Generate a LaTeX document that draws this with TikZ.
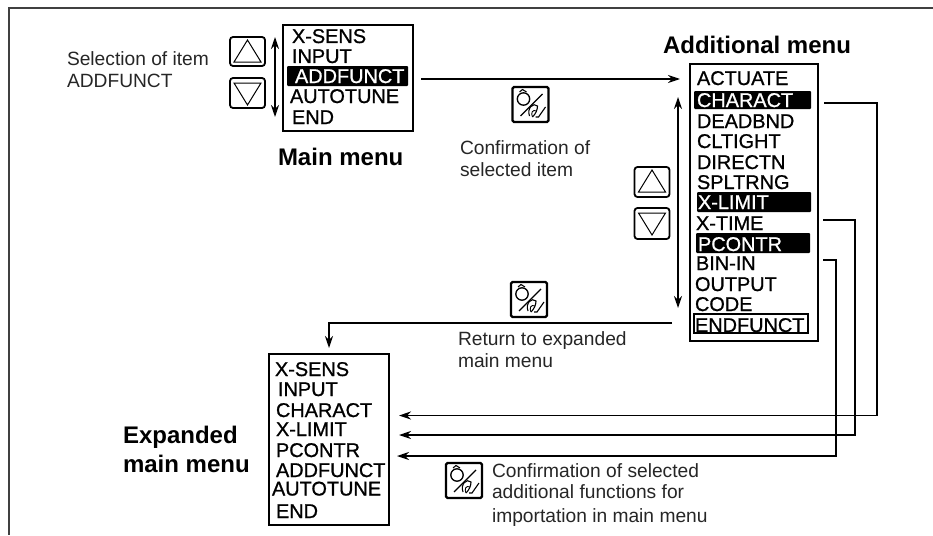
\documentclass[tikz,border=0pt]{standalone}
\usepackage{fontspec}
\setmainfont{Liberation Sans}
\newfontfamily\menufont[FakeBold=0.9]{Liberation Sans}
\usetikzlibrary{arrows.meta}
\tikzset{
  every node/.style={inner sep=0pt,outer sep=0pt},
  label/.style={anchor=base west,font=\fontsize{19.2}{22}\selectfont,text=black!85},
  head/.style={anchor=base west,font=\bfseries\fontsize{24}{28}\selectfont},
  item/.style={anchor=base west,font=\menufont\fontsize{19.9}{24}\selectfont},
  itemw/.style={item,text=white},
  menubox/.style={draw,line width=2.8pt,minimum width=#1,anchor=north west},
  hl/.style={fill=black,rounded corners=1pt,anchor=north west},
  endbox/.style={draw,line width=1.2pt,anchor=north west},
  btn/.style={draw,line width=1.8pt,rounded corners=3pt,anchor=north west,minimum width=35pt},
  iconbox/.style={draw,line width=2.4pt,rounded corners=1.5pt,anchor=north west,minimum width=36pt,minimum height=35pt},
  conn/.style={line width=1.7pt,-{Stealth[length=12pt,width=8pt]}},
  twoway/.style={line width=1.7pt,{Stealth[length=12pt,width=8pt]}-{Stealth[length=12pt,width=8pt]}},
  thinconn/.style={line width=1.5pt,-{Stealth[length=12pt,width=8pt]}},
  glyph/.style={line width=1pt},
  pics/updown/.style={code={
    \draw[glyph] (4,25) -- (17.5,3) -- (31,25) -- cycle;
  }},
  pics/downtri/.style={code={
    \draw[glyph] (4,5) -- (17.5,27) -- (31,5) -- cycle;
  }},
  pics/dial/.style={code={
    \draw[line width=1.3pt] (11,12) circle (6.2);
    \draw[line width=1.1pt] (7,5) -- (10,2.5) -- (14,5);
    \draw[line width=1.1pt] (30,7) -- (8,29);
    \draw[line width=1.1pt] (17,29) .. controls (14,21) and (21,15) .. (25,19) .. controls (25,23) and (23,27) .. (20,30);
    \draw[line width=1.1pt] (23,30) -- (26,30) -- (33,20);
    \draw[line width=0.9pt] (20,30) .. controls (18,26) and (20,22) .. (24,24);
  }}
}
\begin{document}
\begin{tikzpicture}[x=1pt,y=-1pt]
\useasboundingbox (0,0) rectangle (933,535);
\draw[line width=1.5pt,draw=black!75] (933,8) -- (9,8) -- (9,535);

% left labels
\node[label] (sel1) at (67,65) {Selection of item};
\node[label] (sel2) at (67,87) {ADDFUNCT};

% main menu
\node[btn,minimum height=29pt] (mUp) at (230,37) {};
\pic at (mUp.north west) {updown};
\node[btn,minimum height=30pt] (mDn) at (230,78) {};
\pic at (mDn.north west) {downtri};
\node[menubox=130pt,minimum height=106pt] (mainbox) at (283,25) {};
\node[hl,minimum width=121pt,minimum height=20pt] (hlAdd) at (287,66) {};
\node[item] (m1) at (292,43) {X-SENS};
\node[item] (m2) at (292,63) {INPUT};
\node[itemw] (m3) at (295,83) {ADDFUNCT};
\node[item] (m4) at (290,103) {AUTOTUNE};
\node[item] (m5) at (292,124) {END};
\node[head] (mainT) at (278,165) {Main menu};
\draw[twoway] ([xshift=-8pt]mainbox.west |- mUp.north) -- ([xshift=-8pt,yshift=-9pt]mainbox.west |- mDn.south);

% additional menu
\node[head] (addT) at (663,53) {Additional menu};
\node[menubox=128pt,minimum height=277pt] (addbox) at (690,64) {};
\node[hl,minimum width=117pt,minimum height=18pt] (hlChar) at (694,91) {};
\node[hl,minimum width=114pt,minimum height=20pt] (hlLim) at (697,192) {};
\node[hl,minimum width=114pt,minimum height=20pt] (hlPc) at (696,233) {};
\node[endbox,minimum width=114pt,minimum height=19pt] (hlEnd) at (694,314) {};
\node[item] (a1) at (697,85) {ACTUATE};
\node[itemw] (a2) at (697,107) {CHARACT};
\node[item] (a3) at (697,128) {DEADBND};
\node[item] (a4) at (697,148) {CLTIGHT};
\node[item] (a5) at (697,169) {DIRECTN};
\node[item] (a6) at (697,189) {SPLTRNG};
\node[itemw] (a7) at (698,209) {X-LIMIT};
\node[item] (a8) at (696,230) {X-TIME};
\node[itemw] (a9) at (698,251) {PCONTR};
\node[item] (a10) at (696,270) {BIN-IN};
\node[item] (a11) at (695,291) {OUTPUT};
\node[item] (a12) at (695,311) {CODE};
\node[item] (a13) at (695,332) {ENDFUNCT};
\node[btn,minimum height=30pt] (aUp) at (634.5,167) {};
\pic at (aUp.north west) {updown};
\node[btn,minimum height=31pt] (aDn) at (634.5,208) {};
\pic at (aDn.north west) {downtri};
\draw[twoway] ([xshift=-12pt,yshift=-6pt]addbox.west |- hlChar.north) -- ([xshift=-12pt,yshift=33pt]addbox.south west);

% confirm icon + labels
\node[iconbox] (ic1) at (512.5,87) {};
\pic at (ic1.north west) {dial};
\node[label] (c1) at (460,154) {Confirmation of};
\node[label] (c2) at (460,176) {selected item};
\node[iconbox] (ic2) at (511,282) {};
\pic at (ic2.north west) {dial};
\node[label] (r1) at (458,345) {Return to expanded};
\node[label] (r2) at (458,367) {main menu};
\node[iconbox] (ic3) at (446,463) {};
\pic at (ic3.north west) {dial};
\node[label] (f1) at (492,477) {Confirmation of selected};
\node[label] (f2) at (492,498) {additional functions for};
\node[label] (f3) at (492,522) {importation in main menu};

% expanded menu
\node[menubox=120pt,minimum height=171pt] (expbox) at (269,354) {};
\node[item] (e1) at (275,376) {X-SENS};
\node[item] (e2) at (278,396) {INPUT};
\node[item] (e3) at (276,417) {CHARACT};
\node[item] (e4) at (276,436) {X-LIMIT};
\node[item] (e5) at (276,457) {PCONTR};
\node[item] (e6) at (276,477) {ADDFUNCT};
\node[item] (e7) at (272,495.5) {AUTOTUNE};
\node[item] (e8) at (276,518) {END};
\node[head] (eT1) at (123,443) {Expanded};
\node[head] (eT2) at (123,472) {main menu};

% connectors
\coordinate (retStart) at (672,323);
\coordinate (retEnd) at (329,348);
\coordinate (fromChar) at (824,103);
\coordinate (fromTime) at (823,220);
\coordinate (fromBin) at (823,260);
\coordinate (toChar) at (399,415.5);
\coordinate (toLim) at (399,435);
\coordinate (toPc) at (397,456);
\draw[conn] ([xshift=8pt,yshift=-3pt]mainbox.east |- hlAdd.east) -- ([xshift=-10pt,yshift=-3pt]addbox.west |- hlAdd.east);
\draw[conn] (retStart) -| (retEnd);
\draw[thinconn] (fromChar) -| (877,415.5) -- (toChar);
\draw[thinconn] (fromTime) -| (855,435) -- (toLim);
\draw[thinconn] (fromBin) -| (836,456) -- (toPc);
\end{tikzpicture}
\end{document}
